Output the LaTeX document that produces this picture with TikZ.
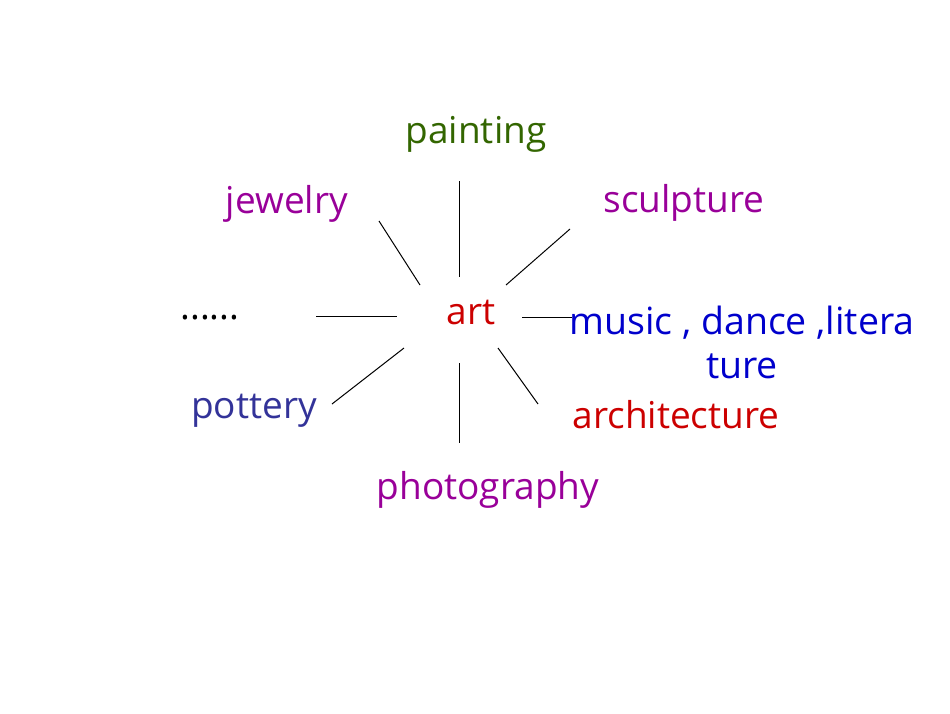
\documentclass[tikz,border=0pt]{standalone}
\usepackage{fontspec}
\setmainfont{Open Sans}
\definecolor{cgreen}{HTML}{336600}
\definecolor{cpurple}{HTML}{990099}
\definecolor{cred}{HTML}{CC0000}
\definecolor{cblue}{HTML}{0000CC}
\definecolor{cindigo}{HTML}{333399}
\begin{document}
\begin{tikzpicture}[x=1pt,y=-1pt,
  lbl/.style={anchor=base,inner sep=0pt,font=\fontsize{37}{44}\selectfont},
  spoke/.style={draw=black,line width=1pt}]
\useasboundingbox[fill=white] (0,0) rectangle (950,713);
% labels
\node[lbl,text=cgreen] (painting) at (476,143) {painting};
\node[lbl,text=cpurple] (jewelry) at (287,213) {jewelry};
\node[lbl,text=cpurple] (sculpture) at (684,212) {sculpture};
\node[lbl,text=cred] (art) at (471,324) {art};
\node[lbl,text=black] (dots) at (210,319) {......};
\node[lbl,text=cblue,align=center,font=\fontsize{37.5}{44}\selectfont] (music) at (742,378) {music , dance ,litera\\ture};
\node[lbl,text=cindigo] (pottery) at (254,418) {pottery};
\node[lbl,text=cred] (architecture) at (676,428) {architecture};
\node[lbl,text=cpurple] (photography) at (488,499) {photography};
% spoke ends
\coordinate (p1) at (459,181); \coordinate (p2) at (459,277);
\coordinate (j1) at (379,221); \coordinate (j2) at (420,285);
\coordinate (s1) at (570,229); \coordinate (s2) at (506,285);
\coordinate (d1) at (316,316); \coordinate (d2) at (397,316);
\coordinate (m1) at (522,317); \coordinate (m2) at (572,317);
\coordinate (o1) at (404,348); \coordinate (o2) at (332,404);
\coordinate (a1) at (498,348); \coordinate (a2) at (538,404);
\coordinate (h1) at (459,363); \coordinate (h2) at (459,443);
\draw[spoke] (p1) -- (p2);
\draw[spoke] (j1) -- (j2);
\draw[spoke] (s1) -- (s2);
\draw[spoke] (d1) -- (d2);
\draw[spoke] (m1) -- (m2);
\draw[spoke] (o1) -- (o2);
\draw[spoke] (a1) -- (a2);
\draw[spoke] (h1) -- (h2);
\end{tikzpicture}
\end{document}
